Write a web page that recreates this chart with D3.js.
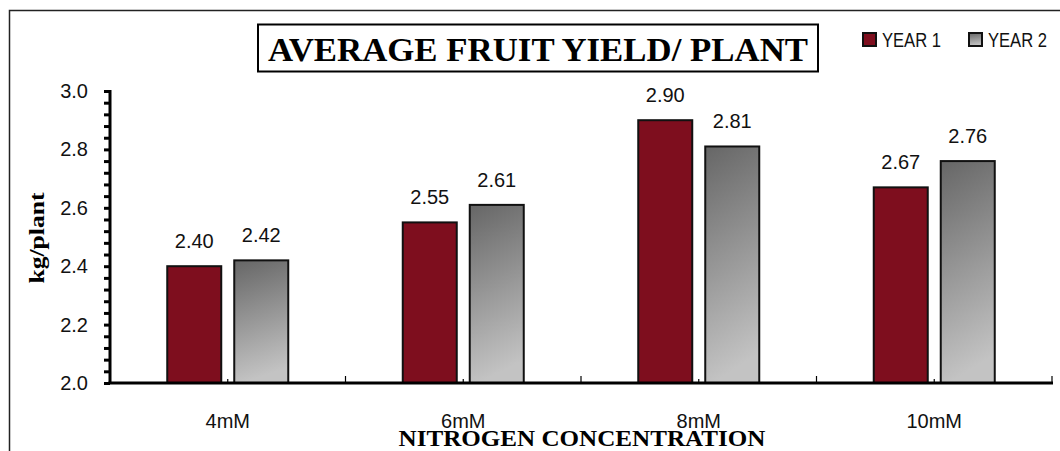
<!DOCTYPE html>
<html>
<head>
<meta charset="utf-8">
<script src="https://cdn.jsdelivr.net/npm/d3@7"></script>
<style>
  html, body { margin: 0; padding: 0; background: #fff; }
  svg { display: block; }
  .sans { font-family: "Liberation Sans", Arial, sans-serif; }
  .serif { font-family: "Liberation Serif", "Times New Roman", serif; font-weight: bold; }
</style>
</head>
<body>
<div id="chart"></div>
<script>
const categories = ["4mM", "6mM", "8mM", "10mM"];
const seriesNames = ["YEAR 1", "YEAR 2"];
const year1 = [2.40, 2.55, 2.90, 2.67];
const year2 = [2.42, 2.61, 2.81, 2.76];
const yTicks = [2.0, 2.2, 2.4, 2.6, 2.8, 3.0];
const yMinorStep = 0.04;

const width = 1060;
const height = 451;
const plot = { left: 110, right: 1052, top: 91, bottom: 383 };

const red = "#7e0e1e";

const svg = d3.select("#chart")
  .append("svg")
  .attr("width", width)
  .attr("height", height);

const defs = svg.append("defs");
const grad = defs.append("linearGradient")
  .attr("id", "grayGrad")
  .attr("x1", 0).attr("y1", 0)
  .attr("x2", 0.15).attr("y2", 1);
grad.append("stop").attr("offset", "0%").attr("stop-color", "#666666");
grad.append("stop").attr("offset", "100%").attr("stop-color", "#c3c3c3");

const fills = [red, "url(#grayGrad)"];

// outer frame (only top and left edges are in view)
svg.append("path")
  .attr("d", `M9.5,451 L9.5,10.5 L1060,10.5`)
  .attr("fill", "none")
  .attr("stroke", "#222")
  .attr("stroke-width", 1.5);

const x0 = d3.scaleBand()
  .domain(categories)
  .range([plot.left, plot.right])
  .padding(0);

const bw = x0.bandwidth();
const x1 = d3.scaleBand()
  .domain(seriesNames)
  .range([bw / 2 - 60.5, bw / 2 + 60.5])
  .paddingInner(0.194)
  .paddingOuter(0);

const y = d3.scaleLinear()
  .domain([2.0, 3.0])
  .range([plot.bottom, plot.top]);

// bars
const rows = categories.map((c, i) => ({ cat: c, values: [year1[i], year2[i]] }));

const groups = svg.append("g")
  .selectAll("g")
  .data(rows)
  .join("g")
  .attr("transform", (d) => `translate(${x0(d.cat)},0)`);

groups.selectAll("rect")
  .data((d) => d.values.map((v, j) => ({ v, s: seriesNames[j], j })))
  .join("rect")
  .attr("x", (d) => x1(d.s))
  .attr("y", (d) => y(d.v))
  .attr("width", x1.bandwidth())
  .attr("height", (d) => y(2.0) - y(d.v))
  .attr("fill", (d) => fills[d.j])
  .attr("stroke", "#111")
  .attr("stroke-width", 2);

groups.selectAll("text")
  .data((d) => d.values.map((v, j) => ({ v, s: seriesNames[j] })))
  .join("text")
  .attr("class", "sans")
  .attr("x", (d) => x1(d.s) + x1.bandwidth() / 2)
  .attr("y", (d) => y(d.v) - 18)
  .attr("text-anchor", "middle")
  .attr("font-size", 20)
  .attr("fill", "#111")
  .text((d) => d3.format(".2f")(d.v));

// y axis
const yAxis = d3.axisLeft(y)
  .tickValues(d3.range(2.0, 3.0001, yMinorStep))
  .tickSize(6)
  .tickFormat("");

const yg = svg.append("g")
  .attr("transform", `translate(${plot.left},0)`)
  .call(yAxis);
yg.select(".domain").remove();
yg.selectAll(".tick line").attr("stroke", "#000").attr("stroke-width", 3);

svg.append("line")
  .attr("x1", plot.left).attr("x2", plot.left)
  .attr("y1", plot.top - 1).attr("y2", plot.bottom)
  .attr("stroke", "#000").attr("stroke-width", 3);

svg.append("g")
  .selectAll("text")
  .data(yTicks)
  .join("text")
  .attr("class", "sans")
  .attr("x", 88)
  .attr("y", (d) => y(d) + 7)
  .attr("text-anchor", "end")
  .attr("font-size", 20)
  .attr("fill", "#111")
  .text((d) => d3.format(".1f")(d));

// x axis
const edges = categories.map((c) => x0(c)).concat([plot.right]);
svg.append("g")
  .selectAll("line")
  .data(edges)
  .join("line")
  .attr("x1", (d) => d).attr("x2", (d) => d)
  .attr("y1", plot.bottom).attr("y2", plot.bottom - 7)
  .attr("stroke", "#000").attr("stroke-width", 1.2);

svg.append("g")
  .selectAll("line")
  .data(categories)
  .join("line")
  .attr("x1", (d) => x0(d) + bw / 2).attr("x2", (d) => x0(d) + bw / 2)
  .attr("y1", plot.bottom).attr("y2", plot.bottom - 4)
  .attr("stroke", "#000").attr("stroke-width", 1.2);

svg.append("line")
  .attr("x1", plot.left - 1.5).attr("x2", plot.right + 1)
  .attr("y1", plot.bottom).attr("y2", plot.bottom)
  .attr("stroke", "#000").attr("stroke-width", 3);

svg.append("g")
  .selectAll("text")
  .data(categories)
  .join("text")
  .attr("class", "sans")
  .attr("x", (d) => x0(d) + bw / 2)
  .attr("y", 428)
  .attr("text-anchor", "middle")
  .attr("font-size", 20)
  .attr("fill", "#111")
  .text((d) => d);

// axis titles
svg.append("text")
  .attr("class", "serif")
  .attr("x", 582)
  .attr("y", 446)
  .attr("text-anchor", "middle")
  .attr("font-size", 23)
  .attr("textLength", 367)
  .attr("lengthAdjust", "spacingAndGlyphs")
  .text("NITROGEN CONCENTRATION");

svg.append("text")
  .attr("class", "serif")
  .attr("transform", "translate(44,238) rotate(-90)")
  .attr("text-anchor", "middle")
  .attr("font-size", 20)
  .attr("textLength", 91)
  .attr("lengthAdjust", "spacingAndGlyphs")
  .text("kg/plant");

// title box
svg.append("rect")
  .attr("x", 258).attr("y", 24.5)
  .attr("width", 560).attr("height", 47)
  .attr("fill", "#fff")
  .attr("stroke", "#000").attr("stroke-width", 2);

svg.append("text")
  .attr("class", "serif")
  .attr("x", 538)
  .attr("y", 61)
  .attr("text-anchor", "middle")
  .attr("font-size", 34)
  .attr("textLength", 540)
  .attr("lengthAdjust", "spacingAndGlyphs")
  .text("AVERAGE FRUIT YIELD/ PLANT");

// legend
const legendX = [863, 969];
const legend = svg.append("g")
  .selectAll("g")
  .data(seriesNames)
  .join("g")
  .attr("transform", (d, i) => `translate(${legendX[i]},33)`);

legend.append("rect")
  .attr("width", 13).attr("height", 13)
  .attr("fill", (d, i) => fills[i])
  .attr("stroke", "#111").attr("stroke-width", 2);

legend.append("text")
  .attr("class", "sans")
  .attr("x", 19)
  .attr("y", 14)
  .attr("font-size", 20)
  .attr("textLength", 59)
  .attr("lengthAdjust", "spacingAndGlyphs")
  .attr("fill", "#111")
  .text((d) => d);
</script>
</body>
</html>
